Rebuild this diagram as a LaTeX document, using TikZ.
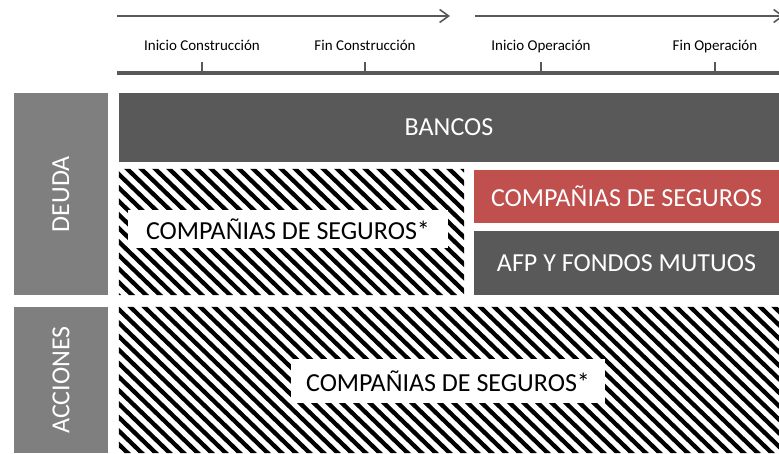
\documentclass[tikz,border=0pt]{standalone}
\usepackage{fontspec}
\setmainfont{Carlito}
\usepackage{xcolor}
\usepackage{tikz}
\usetikzlibrary{arrows.meta}

\definecolor{grisoscuro}{HTML}{595959}
\definecolor{grismedio}{HTML}{7F7F7F}
\definecolor{rojoseg}{HTML}{C0504D}

\tikzset{
  caja/.style={rectangle, inner sep=0pt, text=white, font=\fontsize{26}{30}\selectfont},
  lateral/.style={caja, fill=grismedio, rotate=90},
  etiqueta/.style={rectangle, fill=white, inner sep=0pt, font=\fontsize{26}{30}\selectfont},
  franja/.style={line width=4.3pt, black},
  hito/.style={anchor=base, inner sep=0pt, font=\fontsize{15}{18}\selectfont}
}

\begin{document}
\begin{tikzpicture}[x=1pt, y=-1pt, >={Straight Barb[length=9pt,width=13pt]}]
  \useasboundingbox (0,0) rectangle (779,454);

  % Flechas de tiempo
  \coordinate (fa0) at (117,16);
  \coordinate (fa1) at (450,16);
  \coordinate (fb0) at (475,16);
  \coordinate (fb1) at (784,16);
  \draw[->, grisoscuro, line width=1.6pt] (fa0) -- (fa1);
  \draw[->, grisoscuro, line width=1.6pt] (fb0) -- (fb1);

  % Linea de tiempo
  \coordinate (la0) at (117,73);
  \coordinate (la1) at (779,73);
  \draw[grisoscuro, line width=4.5pt] (la0) -- (la1);

  % Hitos
  \foreach \x/\texto/\n in {202/Inicio Construcción/ic, 365/Fin Construcción/fc, 541/Inicio Operación/io, 715/Fin Operación/fo} {
    \node[hito] (t\n) at (\x,51) {\texto};
    \coordinate (m\n) at (\x,62);
    \coordinate (b\n) at (\x,71);
    \draw[grisoscuro, line width=1.6pt] (m\n) -- (b\n);
  }

  % Bloques laterales
  \node[lateral, minimum width=202pt, minimum height=94pt] (deuda) at (61,194) {DEUDA};
  \node[lateral, minimum width=146pt, minimum height=94pt] (acciones) at (61,380) {ACCIONES};

  % Deuda
  \node[caja, fill=grisoscuro, minimum width=660pt, minimum height=69pt] (bancos) at (449,127.5) {BANCOS};
  \node[caja, fill=rojoseg, minimum width=305pt, minimum height=53pt] (seguros) at (626.5,196.5) {COMPAÑIAS DE SEGUROS};
  \node[caja, fill=grisoscuro, minimum width=305pt, minimum height=64pt] (afp) at (626.5,263) {AFP Y FONDOS MUTUOS};

  % Zonas rayadas
  \node[minimum width=345pt, minimum height=126pt, inner sep=0pt] (rayadoA) at (291.5,232) {};
  \node[minimum width=660pt, minimum height=146pt, inner sep=0pt] (rayadoB) at (449,380) {};
  \begin{scope}
    \clip (rayadoA.north west) rectangle (rayadoA.south east)
          (rayadoB.north west) rectangle (rayadoB.south east);
    \foreach \k in {0,...,75}
      \draw[franja] (-260+14*\k,160) -- ++(311,300);
  \end{scope}

  % Etiquetas sobre rayado
  \node[etiqueta, minimum width=320pt, minimum height=38pt] (segurosA) at (288,229) {COMPAÑIAS DE SEGUROS*};
  \node[etiqueta, minimum width=314pt, minimum height=44pt] (segurosB) at (448,381) {COMPAÑIAS DE SEGUROS*};
\end{tikzpicture}
\end{document}
